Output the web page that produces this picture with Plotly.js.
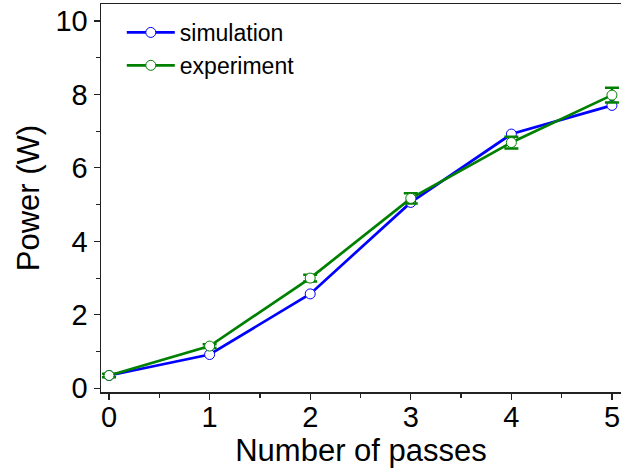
<!DOCTYPE html>
<html>
<head>
<meta charset="utf-8">
<script src="https://cdn.plot.ly/plotly-3.0.1.min.js"></script>
<style>html,body{margin:0;padding:0;background:#fff;}#chart{width:621px;height:468px;}</style>
</head>
<body>
<div id="chart"></div>
<script>
const passes = [0, 1, 2, 3, 4, 5];
const simulation = [0.35, 0.92, 2.57, 5.06, 6.92, 7.70];
const experiment = [0.35, 1.15, 3.00, 5.17, 6.69, 7.98];
const experimentErr = [0.05, 0.05, 0.09, 0.14, 0.16, 0.20];
const xTicks = [0, 1, 2, 3, 4, 5];
const yTicks = [0, 2, 4, 6, 8, 10];

const font = 'Arial, "Liberation Sans", sans-serif';

const traces = [
  {
    x: passes, y: simulation, name: 'simulation', type: 'scatter', mode: 'lines+markers',
    line: {color: '#0000FF', width: 2.7},
    marker: {symbol: 'circle', size: 10, color: '#FFFFFF', line: {color: '#0000FF', width: 1}}
  },
  {
    x: passes, y: experiment, name: 'experiment', type: 'scatter', mode: 'lines+markers',
    line: {color: '#008000', width: 2.7},
    marker: {symbol: 'circle', size: 10, color: '#FFFFFF', line: {color: '#008000', width: 1}},
    error_y: {type: 'data', array: experimentErr, visible: true, color: '#008000', thickness: 2.5, width: 7}
  }
];

const layout = {
  width: 621, height: 468,
  margin: {l: 101, r: 0, t: 4, b: 76},
  paper_bgcolor: '#fff', plot_bgcolor: '#fff',
  showlegend: true,
  legend: {x: 0.04, y: 0.982, xanchor: 'left', yanchor: 'top', font: {family: font, size: 23, color: '#000'}, bgcolor: 'rgba(0,0,0,0)', tracegroupgap: 0, itemwidth: 48},
  xaxis: {
    range: [-0.08, 5.09], tickvals: xTicks, ticktext: xTicks.map(String),
    showgrid: false, zeroline: false, showline: true, linecolor: '#222', linewidth: 1.5, mirror: true,
    ticks: 'outside', ticklen: 6, tickwidth: 1.2, tickcolor: '#222', ticklabelstandoff: -7,
    minor: {dtick: 0.5, tick0: 0, ticks: 'outside', ticklen: 4, tickwidth: 1.2, tickcolor: '#222'},
    tickfont: {family: font, size: 29, color: '#000'},
    title: {text: 'Number of passes', font: {family: font, size: 31, color: '#000'}, standoff: 6}
  },
  yaxis: {
    range: [-0.1, 10.46], tickvals: yTicks, ticktext: yTicks.map(String),
    showgrid: false, zeroline: false, showline: true, linecolor: '#222', linewidth: 1.5, mirror: false,
    ticks: 'outside', ticklen: 6, tickwidth: 1.2, tickcolor: '#222',
    minor: {dtick: 1, tick0: 0, ticks: 'outside', ticklen: 4, tickwidth: 1.2, tickcolor: '#222'},
    tickfont: {family: font, size: 29, color: '#000'},
    title: {text: 'Power (W)', font: {family: font, size: 31, color: '#000'}, standoff: 6}
  }
};

Plotly.newPlot('chart', traces, layout, {displayModeBar: false, staticPlot: true});
</script>
</body>
</html>
